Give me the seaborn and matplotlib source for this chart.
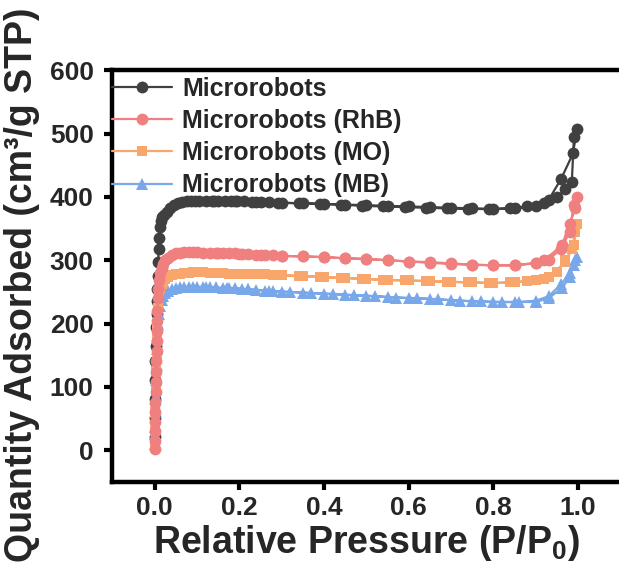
import numpy as np
import pandas as pd
import matplotlib
matplotlib.use("Agg")
import matplotlib.pyplot as plt
import seaborn as sns

# ---------------- data ----------------
labels = ["Microrobots", "Microrobots (RhB)", "Microrobots (MO)", "Microrobots (MB)"]

# relative pressure points: adsorption branch then desorption branch
bk_x = [0.0001, 0.0003, 0.0006, 0.001, 0.0015, 0.002, 0.003, 0.004, 0.005, 0.006,
        0.007, 0.008, 0.009, 0.010, 0.012, 0.014, 0.017, 0.022, 0.028, 0.035,
        0.045, 0.055, 0.065, 0.075, 0.085, 0.095, 0.105, 0.12, 0.135, 0.15,
        0.165, 0.18, 0.195, 0.21, 0.23, 0.25, 0.27, 0.30, 0.35, 0.40, 0.45,
        0.50, 0.55, 0.60, 0.65, 0.70, 0.75, 0.80, 0.85, 0.90, 0.93, 0.96,
        0.988, 0.997,
        0.99, 0.985, 0.97, 0.95, 0.92, 0.88, 0.84, 0.79, 0.74, 0.69, 0.64,
        0.59, 0.54, 0.49, 0.44, 0.39, 0.34, 0.29, 0.24, 0.19, 0.14]
bk_y = [20, 50, 80, 110, 140, 165, 195, 215, 235, 255,
        275, 298, 318, 335, 352, 362, 368, 372, 377, 382,
        388, 391, 392, 393, 393, 393, 394, 394, 394, 393,
        393, 393, 393, 393, 392, 392, 392, 391, 390, 389, 388,
        387, 386, 385, 384, 383, 382, 381, 382, 386, 395, 429,
        469, 508,
        495, 423, 412, 400, 391, 385, 382, 381, 381, 382, 383,
        384, 385, 386, 388, 389, 390, 391, 392, 393, 393]

rd_x = [0.0001, 0.0003, 0.0005, 0.0008, 0.001, 0.0015, 0.002, 0.0025, 0.003, 0.0035,
        0.004, 0.0045, 0.005, 0.0055, 0.006, 0.007, 0.008, 0.010, 0.013, 0.016,
        0.020, 0.025, 0.030, 0.040, 0.050, 0.060, 0.070, 0.080, 0.090, 0.10,
        0.115, 0.13, 0.145, 0.16, 0.175, 0.19, 0.205, 0.22, 0.24, 0.26, 0.28,
        0.30, 0.35, 0.40, 0.45, 0.50, 0.55, 0.60, 0.65, 0.70, 0.75, 0.80,
        0.85, 0.90, 0.92, 0.962, 0.98, 0.993, 0.997,
        0.99, 0.98, 0.96, 0.93, 0.90, 0.85, 0.80, 0.75, 0.70, 0.65, 0.60,
        0.55, 0.50, 0.45, 0.40, 0.35, 0.30, 0.25, 0.20, 0.15]
rd_y = [2, 15, 30, 45, 60, 75, 92, 108, 124, 140,
        156, 172, 188, 204, 220, 240, 255, 268, 280, 288,
        294, 300, 304, 308, 311, 312, 313, 313, 313, 313,
        312, 312, 312, 311, 311, 311, 310, 310, 309, 309, 308,
        307, 306, 305, 303, 302, 300, 298, 297, 295, 293, 292,
        292, 296, 300, 324, 358, 382, 400,
        388, 345, 318, 301, 295, 292, 292, 293, 294, 296, 298,
        300, 302, 303, 305, 306, 307, 309, 310, 312]

or_x = [0.0001, 0.0005, 0.001, 0.002, 0.003, 0.004, 0.005, 0.006, 0.008, 0.010,
        0.013, 0.016, 0.020, 0.025, 0.030, 0.040, 0.050, 0.060, 0.070, 0.080,
        0.090, 0.10, 0.115, 0.13, 0.145, 0.16, 0.175, 0.19, 0.205, 0.22, 0.24,
        0.26, 0.28, 0.30, 0.35, 0.40, 0.45, 0.50, 0.55, 0.60, 0.65, 0.70,
        0.75, 0.80, 0.85, 0.90, 0.93, 0.97, 0.99, 0.997,
        0.993, 0.985, 0.97, 0.95, 0.92, 0.88, 0.84, 0.79, 0.74, 0.69, 0.64,
        0.59, 0.54, 0.49, 0.44, 0.39, 0.34, 0.29, 0.24, 0.19, 0.14]
or_y = [5, 30, 60, 95, 125, 150, 175, 200, 225, 245,
        256, 262, 267, 271, 274, 277, 278, 279, 280, 280,
        281, 281, 281, 280, 280, 280, 279, 279, 279, 279, 278,
        278, 277, 276, 275, 273, 272, 270, 269, 268, 267, 266,
        265, 264, 265, 268, 273, 297, 324, 358,
        345, 318, 300, 282, 271, 267, 265, 264, 265, 266, 267,
        268, 269, 271, 272, 274, 275, 277, 278, 279, 280]

bl_x = [0.0001, 0.0005, 0.001, 0.0015, 0.002, 0.003, 0.004, 0.005, 0.006, 0.008,
        0.010, 0.013, 0.016, 0.020, 0.025, 0.030, 0.040, 0.050, 0.060, 0.070,
        0.080, 0.090, 0.10, 0.115, 0.13, 0.145, 0.16, 0.175, 0.19, 0.205,
        0.22, 0.24, 0.26, 0.28, 0.30, 0.35, 0.40, 0.45, 0.50, 0.55, 0.60,
        0.65, 0.70, 0.75, 0.80, 0.85, 0.90, 0.93, 0.962, 0.98, 0.993, 0.997,
        0.99, 0.98, 0.96, 0.93, 0.90, 0.86, 0.82, 0.77, 0.72, 0.67, 0.62,
        0.57, 0.52, 0.47, 0.42, 0.37, 0.32, 0.27, 0.22, 0.17, 0.12]
bl_y = [10, 25, 36, 60, 85, 110, 135, 160, 180, 200,
        215, 228, 237, 243, 248, 251, 254, 256, 257, 258,
        258, 258, 258, 258, 257, 257, 256, 256, 256, 255,
        254, 253, 252, 251, 250, 249, 247, 245, 244, 242, 240,
        239, 237, 235, 234, 234, 234, 240, 256, 273, 300, 305,
        292, 280, 262, 243, 236, 234, 234, 235, 236, 238, 240,
        241, 243, 245, 247, 248, 250, 252, 254, 256, 257]

colors = ["#404040", "#f08080", "#f8a66c", "#78a8ea"]
markers = ["o", "o", "s", "^"]
msizes = [8.5, 8.5, 7.5, 9.0]
zorders = [2, 5, 4, 3]

series = [(bk_x, bk_y), (rd_x, rd_y), (or_x, or_y), (bl_x, bl_y)]

# ---------------- style ----------------
sns.set_style("ticks")
plt.rcParams["font.family"] = ["Liberation Sans", "DejaVu Sans"]
plt.rcParams["font.weight"] = "bold"
plt.rcParams["axes.labelweight"] = "bold"
plt.rcParams["mathtext.fontset"] = "custom"
plt.rcParams["mathtext.rm"] = "Liberation Sans:bold"
plt.rcParams["mathtext.it"] = "Liberation Sans:bold"
plt.rcParams["mathtext.default"] = "rm"

fig = plt.figure(figsize=(6.19, 5.66), dpi=100)
ax = fig.add_axes([0.1817, 0.149, 0.8207, 0.7265])

for (xs, ys), lab, c, m, ms, z in zip(series, labels, colors, markers, msizes, zorders):
    df = pd.DataFrame({"x": xs, "y": ys})
    sns.lineplot(data=df, x="x", y="y", sort=False, estimator=None, ax=ax,
                 color=c, marker=m, markersize=ms, markeredgewidth=0,
                 linewidth=1.6, label=lab, zorder=z, clip_on=False)

ax.set_xlim(-0.1, 1.1)
ax.set_ylim(-50, 600)
ax.set_xticks([0.0, 0.2, 0.4, 0.6, 0.8, 1.0])
ax.set_xticklabels(["0.0", "0.2", "0.4", "0.6", "0.8", "1.0"])
ax.set_yticks([0, 100, 200, 300, 400, 500, 600])

for s in ["left", "bottom", "top"]:
    ax.spines[s].set_linewidth(3.2)
    ax.spines[s].set_color("black")
ax.spines["right"].set_visible(False)

ax.tick_params(axis="both", which="major", direction="out", length=5.5, width=3,
               labelsize=19, color="black")
ax.tick_params(axis="y", pad=8)
ax.tick_params(axis="x", pad=5)
for t in ax.get_xticklabels() + ax.get_yticklabels():
    t.set_fontweight("bold")

ax.set_xlabel(r"Relative Pressure (P/P$_{0}$)", fontsize=27, fontweight="bold", labelpad=2)
ax.set_ylabel("Quantity Adsorbed (cm³/g STP)", fontsize=27, fontweight="bold")
ax.yaxis.set_label_coords(-0.143, 0.478)

handles, lbls = ax.get_legend_handles_labels()
leg = ax.legend(handles, lbls, loc="upper left", bbox_to_anchor=(0.0, 0.985),
                frameon=False, fontsize=18, borderaxespad=0.0, borderpad=0.0,
                handlelength=2.4, handletextpad=0.4, labelspacing=0.33)
for t in leg.get_texts():
    t.set_fontweight("bold")

fig.savefig("out.png", dpi=100)
